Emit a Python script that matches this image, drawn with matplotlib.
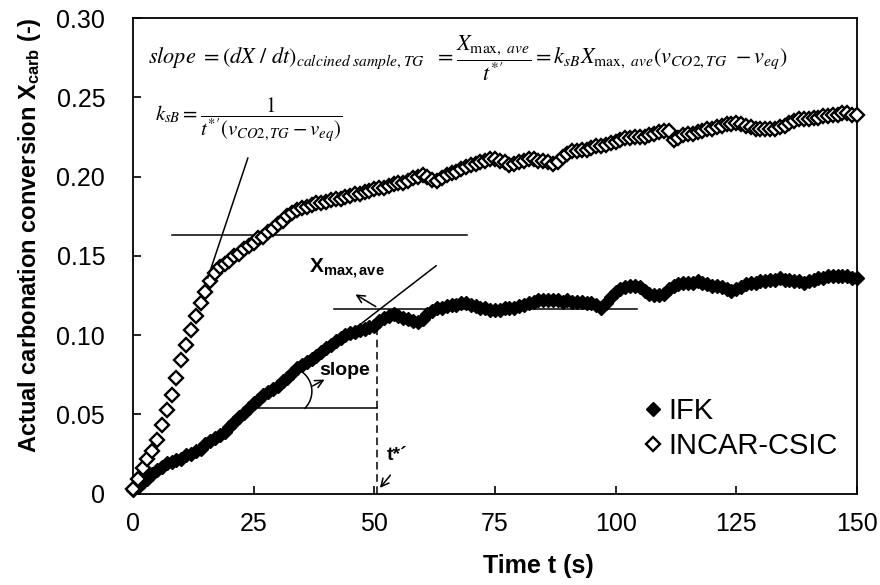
import numpy as np
import matplotlib
matplotlib.use("Agg")
from matplotlib import pyplot as plt

plt.rcParams['font.family'] = ['Liberation Sans', 'DejaVu Sans']
plt.rcParams['mathtext.fontset'] = 'custom'
plt.rcParams['mathtext.rm'] = 'Liberation Sans'
plt.rcParams['mathtext.it'] = 'Liberation Sans:italic'
plt.rcParams['mathtext.bf'] = 'Liberation Sans:bold'

# time in seconds, one reading per second
time_s = list(range(0, 151))

ifk = [
    0.002, 0.004, 0.007, 0.009, 0.012, 0.015, 0.017, 0.019, 0.020, 0.021,
    0.022, 0.024, 0.025, 0.027, 0.028, 0.031, 0.033, 0.035, 0.037, 0.039,
    0.042, 0.045, 0.048, 0.051, 0.054, 0.057, 0.059, 0.062, 0.064, 0.066,
    0.068, 0.071, 0.073, 0.076, 0.079, 0.081, 0.083, 0.085, 0.087, 0.089,
    0.092, 0.094, 0.096, 0.098, 0.100, 0.101, 0.102, 0.103, 0.104, 0.105,
    0.106, 0.109, 0.111, 0.112, 0.113, 0.112, 0.111, 0.110, 0.109, 0.108,
    0.110, 0.113, 0.115, 0.117, 0.117, 0.118, 0.119, 0.119, 0.120, 0.120,
    0.119, 0.118, 0.117, 0.117, 0.116, 0.116, 0.116, 0.117, 0.117, 0.117,
    0.118, 0.119, 0.120, 0.121, 0.122, 0.122, 0.122, 0.122, 0.122, 0.121,
    0.122, 0.121, 0.121, 0.121, 0.120, 0.120, 0.119, 0.117, 0.120, 0.124,
    0.127, 0.129, 0.130, 0.131, 0.131, 0.130, 0.128, 0.126, 0.125, 0.125,
    0.126, 0.129, 0.131, 0.132, 0.133, 0.133, 0.133, 0.134, 0.133, 0.132,
    0.131, 0.131, 0.130, 0.129, 0.128, 0.129, 0.130, 0.132, 0.133, 0.133,
    0.134, 0.134, 0.135, 0.135, 0.136, 0.135, 0.135, 0.134, 0.134, 0.133,
    0.134, 0.135, 0.136, 0.136, 0.137, 0.137, 0.137, 0.137, 0.137, 0.136,
    0.136,
]

incar_csic = [
    0.003, 0.009, 0.016, 0.022, 0.027, 0.034, 0.043, 0.053, 0.062, 0.073,
    0.084, 0.094, 0.103, 0.112, 0.120, 0.127, 0.134, 0.139, 0.143, 0.145,
    0.147, 0.150, 0.151, 0.154, 0.156, 0.158, 0.161, 0.162, 0.165, 0.167,
    0.170, 0.172, 0.175, 0.177, 0.179, 0.180, 0.181, 0.182, 0.183, 0.183,
    0.184, 0.185, 0.186, 0.186, 0.187, 0.188, 0.189, 0.189, 0.190, 0.191,
    0.192, 0.193, 0.193, 0.194, 0.195, 0.196, 0.196, 0.197, 0.199, 0.200,
    0.201, 0.200, 0.198, 0.197, 0.199, 0.201, 0.202, 0.203, 0.205, 0.206,
    0.207, 0.208, 0.209, 0.210, 0.211, 0.211, 0.210, 0.209, 0.207, 0.208,
    0.209, 0.210, 0.211, 0.211, 0.210, 0.210, 0.209, 0.208, 0.209, 0.212,
    0.214, 0.216, 0.216, 0.217, 0.217, 0.218, 0.219, 0.219, 0.220, 0.221,
    0.222, 0.223, 0.224, 0.224, 0.225, 0.225, 0.225, 0.226, 0.227, 0.228,
    0.229, 0.229, 0.223, 0.224, 0.226, 0.227, 0.227, 0.228, 0.229, 0.230,
    0.230, 0.231, 0.232, 0.233, 0.233, 0.234, 0.233, 0.232, 0.231, 0.230,
    0.230, 0.230, 0.230, 0.230, 0.231, 0.232, 0.234, 0.235, 0.236, 0.236,
    0.236, 0.237, 0.237, 0.238, 0.238, 0.239, 0.239, 0.240, 0.240, 0.239,
    0.239,
]

x_ticks = [0, 25, 50, 75, 100, 125, 150]
y_ticks = [0, 0.05, 0.10, 0.15, 0.20, 0.25, 0.30]
y_tick_labels = ['0', '0.05', '0.10', '0.15', '0.20', '0.25', '0.30']

fig = plt.figure(figsize=(8.8, 5.85), dpi=100)
ax = fig.add_axes([0.1511, 0.1564, 0.8227, 0.8128])

ax.plot(time_s, ifk, linestyle='none', marker='D', markersize=7.6,
        color='black', markeredgecolor='black', label='IFK', clip_on=False, zorder=3)
ax.plot(time_s, incar_csic, linestyle='none', marker='D', markersize=7.3,
        markerfacecolor='white', markeredgecolor='black', markeredgewidth=1.7,
        label='INCAR-CSIC', clip_on=False, zorder=3)

ax.set_xlim(0, 150)
ax.set_ylim(0, 0.30)
ax.set_xticks(x_ticks)
ax.set_yticks(y_ticks)
ax.set_yticklabels(y_tick_labels)
ax.tick_params(direction='in', length=6, width=1.2, labelsize=18)
ax.tick_params(axis='y', pad=20)
ax.tick_params(axis='x', pad=13)
for s in ax.spines.values():
    s.set_linewidth(1.3)

ax.set_xlabel('Time t (s)', fontsize=18, fontweight='bold')
ax.xaxis.set_label_coords(0.56, -0.128)
ax.set_ylabel(r'Actual carbonation conversion X$_{\mathbf{carb}}$ (-)',
              fontsize=17, fontweight='bold')
ax.yaxis.set_label_coords(-0.124, 0.544)

# construction lines
lw = 1.1
ax.plot([8, 69.3], [0.163, 0.163], color='black', lw=lw, zorder=2)
ax.plot([23.8, 15.5], [0.2116, 0.136], color='black', lw=lw, zorder=4)
ax.plot([41.6, 104.4], [0.1167, 0.1167], color='black', lw=lw, zorder=4)
ax.plot([40, 62.8], [0.090, 0.1437], color='black', lw=lw, zorder=2)
ax.plot([25.7, 50.5], [0.0538, 0.0538], color='black', lw=lw, zorder=2)
ax.plot([50.5, 50.5], [0.0, 0.1028], color='black', lw=lw, ls=(0, (5, 3)), zorder=2)

# angle arc between the horizontal and the curve (a ")" shape, radius ~24 px)
ang = np.radians(np.linspace(-45, 52, 40))
ax.plot(32.1 + 4.97 * np.cos(ang), 0.0645 + 0.0151 * np.sin(ang), color='black', lw=lw)

arrow = dict(arrowstyle='->', color='black', lw=1.1, mutation_scale=14)
ax.annotate('', xy=(40.2, 0.0727), xytext=(36.7, 0.067), arrowprops=arrow)
ax.annotate('', xy=(45.6, 0.1265), xytext=(50.8, 0.117), arrowprops=arrow)
ax.annotate('', xy=(50.8, 0.0022), xytext=(53.7, 0.0129), arrowprops=arrow)

ax.text(43.9, 0.0777, 'slope', fontsize=14, fontweight='bold', ha='center', va='center')
ax.text(36.5, 0.139, r'X$_{\mathbf{max,ave}}$', fontsize=15, fontweight='bold',
        ha='left', va='baseline')
ax.text(54.7, 0.024, 't*\u00b4', fontsize=14, fontweight='bold', ha='center', va='center')

eq1 = (r'$slope\ = (dX\ /\ dt)_{calcined\ sample,TG}\ \ = \dfrac{X_{\mathrm{max},\ ave}}{t^{*\prime}}'
       r' = k_{sB}X_{\mathrm{max},\ ave}(v_{CO2,TG}\ - v_{eq})$')
eq2 = r'$k_{sB} = \dfrac{1}{t^{*\prime}(v_{CO2,TG} - v_{eq})}$'
ax.text(3.2, 0.2745, eq1, fontsize=16, math_fontfamily='stix', ha='left', va='center')
ax.text(4.5, 0.236, eq2, fontsize=15, math_fontfamily='stix', ha='left', va='center')

ax.legend(loc='center left', bbox_to_anchor=(0.683, 0.137), frameon=False, fontsize=21,
          borderpad=0, handletextpad=0.15, handlelength=0.75, labelspacing=0.25)

plt.savefig('out.png', dpi=100)
